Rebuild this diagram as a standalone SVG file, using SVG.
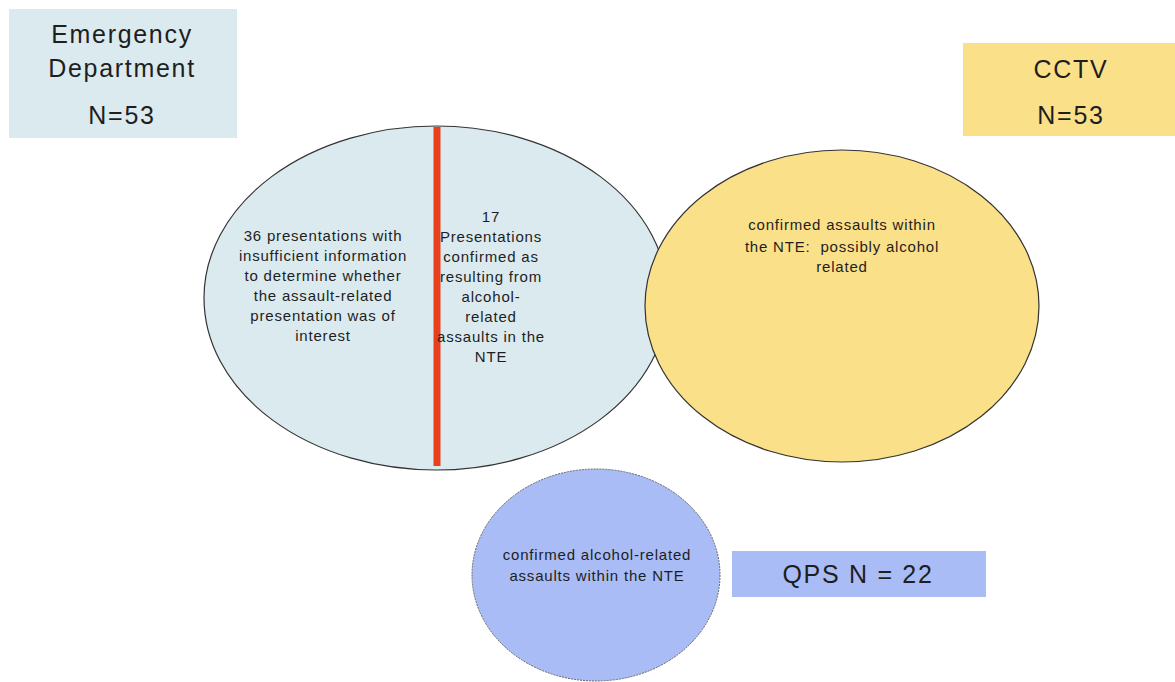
<svg xmlns="http://www.w3.org/2000/svg" width="1175" height="682" viewBox="0 0 1175 682">
  <style>
    .lbl { font-family: "Liberation Sans", Arial, sans-serif; fill: #1e1e1e; text-anchor: middle; }
    .big { font-size: 25px; letter-spacing: 1.7px; }
    .small { font-size: 15px; letter-spacing: 0.8px; }
    .pre { white-space: pre; }
  </style>
  <rect width="1175" height="682" fill="#ffffff"/>

  <!-- Emergency Department source label -->
  <g id="ed-label">
    <rect x="9" y="9" width="228" height="129" fill="#dbeaee"/>
    <text class="lbl big" x="122" y="43">Emergency</text>
    <text class="lbl big" x="122" y="77">Department</text>
    <text class="lbl big" x="122" y="124">N=53</text>
  </g>

  <!-- Emergency Department presentations, split in two -->
  <g id="ed-circle">
    <ellipse cx="436" cy="298" rx="232" ry="172" fill="#dbeaee" stroke="#333" stroke-width="1.2"/>
    <line x1="437" y1="127" x2="437" y2="466" stroke="#e8401c" stroke-width="7"/>
    <text class="lbl small" x="323" y="241">36 presentations with</text>
    <text class="lbl small" x="323" y="261">insufficient information</text>
    <text class="lbl small" x="323" y="281">to determine whether</text>
    <text class="lbl small" x="323" y="301">the assault-related</text>
    <text class="lbl small" x="323" y="321">presentation was of</text>
    <text class="lbl small" x="323" y="341">interest</text>
    <text class="lbl small" x="491" y="222">17</text>
    <text class="lbl small" x="491" y="242">Presentations</text>
    <text class="lbl small" x="491" y="262">confirmed as</text>
    <text class="lbl small" x="491" y="282">resulting from</text>
    <text class="lbl small" x="491" y="302">alcohol-</text>
    <text class="lbl small" x="491" y="322">related</text>
    <text class="lbl small" x="491" y="342">assaults in the</text>
    <text class="lbl small" x="491" y="362">NTE</text>
  </g>

  <!-- CCTV source label -->
  <g id="cctv-label">
    <rect x="963" y="43" width="212" height="93" fill="#fbe08a"/>
    <text class="lbl big" x="1071" y="78">CCTV</text>
    <text class="lbl big" x="1071" y="124">N=53</text>
  </g>

  <!-- CCTV assaults -->
  <g id="cctv-circle">
    <ellipse cx="842" cy="306" rx="197" ry="156" fill="#fbe08a" stroke="#333" stroke-width="1.2"/>
    <text class="lbl small" x="842" y="230">confirmed assaults within</text>
    <text class="lbl small pre" x="842" y="252">the NTE:  possibly alcohol</text>
    <text class="lbl small" x="842" y="272">related</text>
  </g>

  <!-- QPS assaults -->
  <g id="qps-circle">
    <ellipse cx="596" cy="575" rx="124" ry="106" fill="#aabcf5" stroke="#666" stroke-width="1" stroke-dasharray="2 1"/>
    <text class="lbl small" x="597" y="560">confirmed alcohol-related</text>
    <text class="lbl small" x="597" y="581">assaults within the NTE</text>
  </g>

  <!-- QPS source label -->
  <g id="qps-label">
    <rect x="732" y="551" width="254" height="46" fill="#aabcf5"/>
    <text class="lbl big" x="858" y="583">QPS N = 22</text>
  </g>

  <g id="connectors"/>
</svg>
